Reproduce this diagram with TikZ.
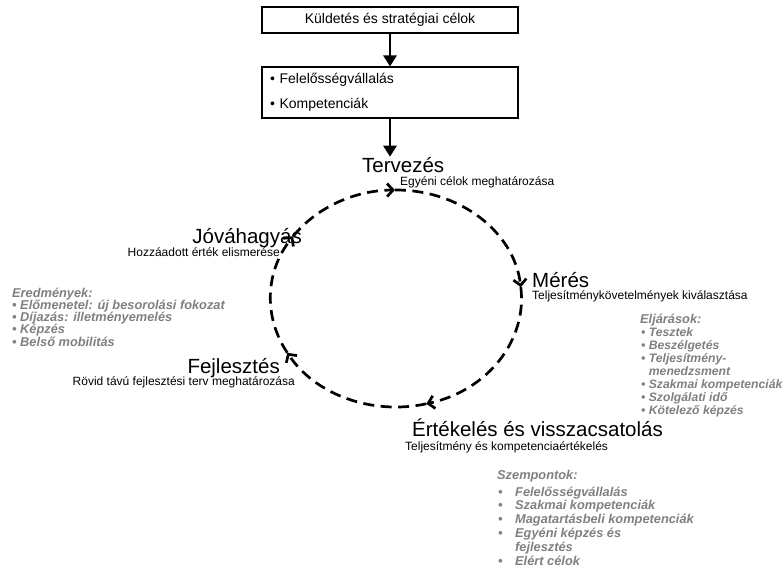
\documentclass[tikz,border=0pt]{standalone}
\usepackage{fontspec}
\setmainfont{Liberation Sans}
\usetikzlibrary{arrows.meta,positioning}

\begin{document}
\begin{tikzpicture}[x=1pt, y=-1pt,
    box/.style={draw=black, line width=1.1pt, minimum width=256pt, inner sep=0pt, font=\fontsize{14}{16}\selectfont},
    flow/.style={-{Triangle[length=11pt,width=13pt]}, line width=2.8pt},
    cyc/.style={dash pattern=on 11pt off 6.5pt, line width=2.7pt, -{Straight Barb[length=6pt,width=13pt]}},
    phase/.style={inner sep=0pt, font=\fontsize{20.5}{24}\selectfont},
    sub/.style={inner sep=0pt, font=\fontsize{12}{14}\selectfont},
    note/.style={inner sep=0pt, text=gray, font=\fontsize{12.8}{14}\selectfont\bfseries\itshape}
]
\useasboundingbox (0,0) rectangle (783,573);

% Küldetés és kompetenciák
\node[box, minimum height=26pt] (mission) at (390,20) {Küldetés és stratégiai célok};
\node[box, minimum height=51pt, text width=240pt, align=left, font=\fontsize{14}{24.7}\selectfont] (values) at (390,92.5) {• Felelősségvállalás\\• Kompetenciák};

% A ciklus szakaszai
\node[phase, anchor=base west] (terv) at (362,172) {Tervezés};
\node[sub, anchor=base west] (terv-sub) at (400,185) {Egyéni célok meghatározása};
\node[phase, anchor=base west] (meres) at (532,287) {Mérés};
\node[sub, anchor=base west] (meres-sub) at (532,299) {Teljesítménykövetelmények kiválasztása};
\node[phase, anchor=base west] (ert) at (412,436) {Értékelés és visszacsatolás};
\node[sub, anchor=base west] (ert-sub) at (405,450) {Teljesítmény és kompetenciaértékelés};
\node[phase, anchor=base east] (fejl) at (280,373) {Fejlesztés};
\node[sub, anchor=base east] (fejl-sub) at (295,385) {Rövid távú fejlesztési terv meghatározása};
\node[phase, anchor=base east] (jov) at (302,243) {Jóváhagyás};
\node[sub, anchor=base east] (jov-sub) at (280,256) {Hozzáadott érték elismerése};

% Nyilak
\draw[flow] (mission.south) -- (values.north);
\draw[flow] (values.south) -- (values.south |- terv.north);

% Szaggatott kör
\coordinate (c) at (396,298.5);
\foreach \n/\a in {pJ/215, pT/269.5, pM/354, pE/76, pF/150}
    \path (c) ++(\a:125.5 and 108.5) coordinate (\n);
\draw[cyc] (pJ) arc[start angle=215, end angle=269.5, x radius=125.5, y radius=108.5];
\draw[cyc] (pT) arc[start angle=269.5, end angle=354, x radius=125.5, y radius=108.5];
\draw[cyc] (pM) arc[start angle=354, end angle=436, x radius=125.5, y radius=108.5];
\draw[cyc] (pE) arc[start angle=76, end angle=150, x radius=125.5, y radius=108.5];
\draw[cyc] (pF) arc[start angle=150, end angle=215, x radius=125.5, y radius=108.5];

% Eredmények
\node[note, anchor=base west] (ered) at (12,297) {Eredmények:};
\foreach \t [count=\i] in {Előmenetel: új besorolási fokozat, Díjazás: illetményemelés, Képzés, Belső mobilitás}
    \node[note, anchor=base west] (ered-\i) at (12,297+12.3*\i) {• \t};

% Eljárások
\node[note, anchor=base west] (eljar) at (640,323) {Eljárások:};
\foreach \t [count=\i] in {• Tesztek, • Beszélgetés, • Teljesítmény-, \phantom{•~}menedzsment, • Szakmai kompetenciák, • Szolgálati idő, • Kötelező képzés}
    \node[note, anchor=base west, font=\fontsize{12.2}{14}\selectfont\bfseries\itshape] (eljar-\i) at (641,323+13.1*\i) {\t};

% Szempontok
\node[note, anchor=base west] (szemp) at (497,479) {Szempontok:};
\foreach \t [count=\i] in {\makebox[17pt][l]{•}Felelősségvállalás, \makebox[17pt][l]{•}Szakmai kompetenciák, \makebox[17pt][l]{•}Magatartásbeli kompetenciák, \makebox[17pt][l]{•}Egyéni képzés és, \hspace*{17pt}fejlesztés, \makebox[17pt][l]{•}Elért célok}
    \node[note, anchor=base west] (szemp-\i) at (498,482.2+13.8*\i) {\t};

\end{tikzpicture}
\end{document}
